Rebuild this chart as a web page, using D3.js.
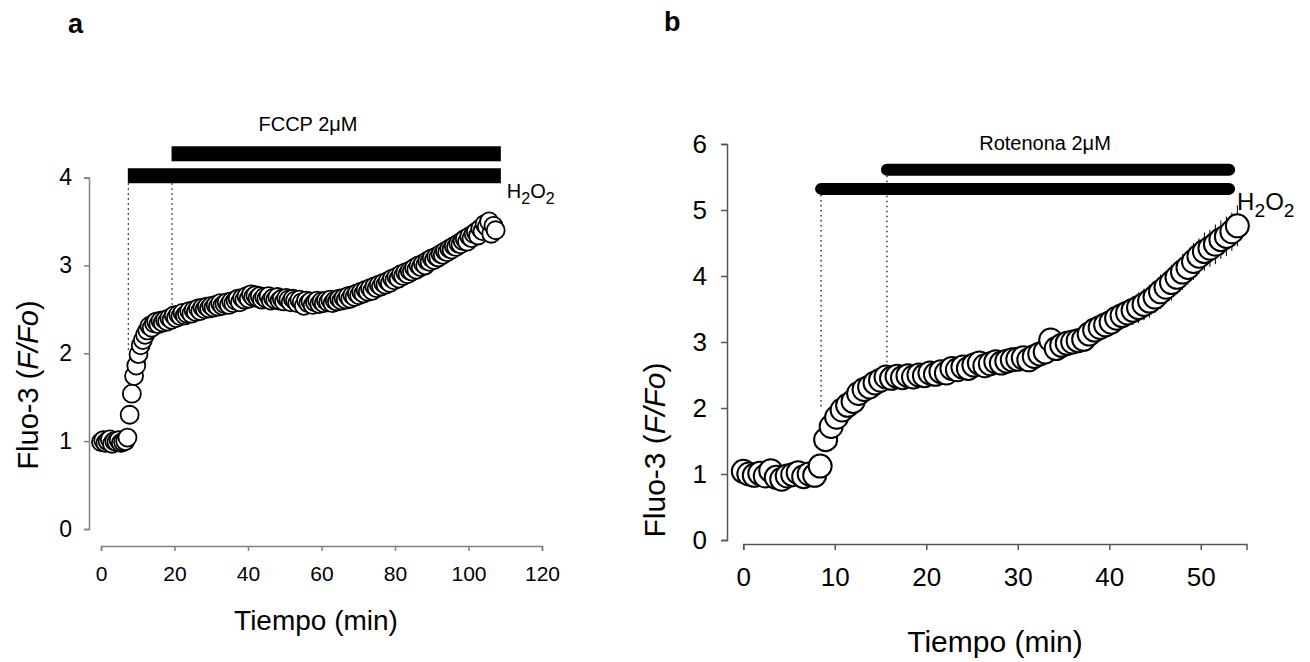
<!DOCTYPE html>
<html><head><meta charset="utf-8">
<script src="https://cdn.jsdelivr.net/npm/d3@7"></script>
<style>body{margin:0;background:#fff}svg{display:block}text{font-family:"Liberation Sans",Arial,sans-serif}</style>
</head><body>
<svg id="c" width="1310" height="662"></svg>
<script>
// ---------- DATA ----------
// Panel a: sampling interval (min) and Fluo-3 F/Fo values
const intervalA = 0.6;
const valuesA = [
0.99,1.01,0.98,1.00,1.02,0.97,1.00,0.99,1.01,0.98,0.99,1.00,1.04,
1.30,1.54,1.74,1.86,1.99,2.09,2.15,
2.21,2.26,2.31,2.29,2.34,2.36,2.33,2.37,2.35,2.38,
2.36,2.40,2.38,2.43,2.40,2.44,2.42,2.46,2.43,2.45,
2.48,2.45,2.49,2.47,2.51,2.48,2.52,2.50,2.53,2.51,
2.54,2.52,2.55,2.53,2.57,2.54,2.56,2.58,2.55,2.59,
2.57,2.60,2.62,2.58,2.63,2.61,2.65,2.62,2.67,2.64,
2.66,2.63,2.65,2.61,2.64,2.62,2.65,2.60,2.63,2.61,
2.64,2.60,2.62,2.59,2.63,2.61,2.58,2.62,2.60,2.57,
2.61,2.58,2.54,2.60,2.57,2.59,2.55,2.58,2.60,2.56,
2.59,2.57,2.60,2.58,2.61,2.57,2.60,2.59,2.62,2.60,
2.63,2.61,2.65,2.62,2.66,2.64,2.68,2.66,2.70,2.68,
2.72,2.70,2.74,2.71,2.76,2.74,2.78,2.76,2.80,2.78,
2.82,2.80,2.85,2.83,2.87,2.85,2.90,2.88,2.92,2.90,
2.94,2.93,2.97,2.95,3.00,2.98,3.02,3.00,3.05,3.04,
3.08,3.06,3.10,3.09,3.13,3.12,3.16,3.15,3.19,3.18,
3.22,3.21,3.25,3.24,3.28,3.30,3.27,3.33,3.31,3.36,
3.38,3.34,3.42,3.39,3.47,3.44,3.50,3.36,3.45,3.40];
const xTicksA = [0,20,40,60,80,100,120];
const yTicksA = [0,1,2,3,4];
// treatment bars panel a: [start, end] in min
const h2o2A = [7.3, 108.8];
const fccpA = [19.2, 108.8];

// Panel b
const intervalB = 0.6;
const valuesB = [
1.04,1.00,0.98,1.01,0.97,1.05,0.95,0.92,0.97,0.99,1.02,0.96,1.00,0.98,
1.12,1.52,1.72,1.86,1.97,2.04,2.10,2.22,2.28,2.32,
2.38,2.42,2.47,2.45,2.48,2.46,2.49,2.47,2.50,2.49,
2.53,2.51,2.55,2.53,2.60,2.58,2.62,2.60,2.65,2.68,
2.64,2.67,2.70,2.68,2.71,2.73,2.74,2.76,2.73,2.78,
2.82,2.85,3.03,2.90,2.95,2.98,3.00,3.02,3.04,3.12,
3.18,3.22,3.26,3.30,3.36,3.40,3.44,3.48,3.52,3.57,
3.62,3.68,3.76,3.83,3.90,3.98,4.06,4.13,4.22,4.30,
4.37,4.42,4.48,4.55,4.60,4.67,4.76];
const errorsB = [
0.08,0.08,0.08,0.08,0.08,0.08,0.08,0.08,0.08,0.08,0.08,0.08,0.08,0.08,
0.08,0.08,0.08,0.08,0.08,0.08,0.08,0.08,0.08,0.08,
0.08,0.08,0.08,0.08,0.08,0.08,0.08,0.08,0.08,0.08,
0.08,0.08,0.08,0.08,0.08,0.08,0.08,0.08,0.08,0.08,
0.08,0.08,0.08,0.08,0.08,0.08,0.08,0.08,0.08,0.08,
0.08,0.08,0.08,0.10,0.10,0.10,0.12,0.12,0.12,0.14,
0.15,0.16,0.17,0.18,0.19,0.20,0.21,0.22,0.23,0.24,
0.25,0.24,0.26,0.25,0.27,0.26,0.27,0.26,0.28,0.27,
0.29,0.28,0.30,0.29,0.30,0.29,0.31];
const xTicksB = [0,10,20,30,40,50];
const yTicksB = [0,1,2,3,4,5,6];
const h2o2B = [8.5, 53.1];
const rotB = [15.7, 53.1];

// ---------- DRAW ----------
const svg = d3.select("#c");
const FONT = "Liberation Sans, Arial, sans-serif";
const fmt = d3.format("d");

function yTitle(g, x, y, size){
  const t = g.append("text").attr("transform",`translate(${x},${y}) rotate(-90)`)
    .attr("text-anchor","middle").attr("font-size",size);
  t.append("tspan").text("Fluo-3 (");
  t.append("tspan").attr("font-style","italic").text("F/Fo");
  t.append("tspan").text(")");
}
function h2o2(g, x, y, size){
  const t = g.append("text").attr("x",x).attr("y",y).attr("font-size",size);
  t.append("tspan").text("H");
  t.append("tspan").attr("font-size",size*0.8).attr("dy",size*0.3).text("2");
  t.append("tspan").attr("dy",-size*0.3).text("O");
  t.append("tspan").attr("font-size",size*0.8).attr("dy",size*0.3).text("2");
}

// ===== Panel a =====
{
  const x = d3.scaleLinear().domain([0,120]).range([101,542]);
  const y = d3.scaleLinear().domain([0,4]).range([529,177.5]);
  const g = svg.append("g");
  const yAx = g.append("g").attr("transform","translate(89,0)")
    .call(d3.axisLeft(y).tickValues(yTicksA).tickFormat(fmt).tickSizeOuter(0).tickSize(5).tickPadding(12));
  yAx.selectAll("path,line").attr("stroke","#808080").attr("stroke-width",1.5);
  yAx.selectAll("text").attr("font-size",23).attr("fill","#000").attr("font-family",FONT);
  const xAx = g.append("g").attr("transform","translate(0,546)")
    .call(d3.axisBottom(x).tickValues(xTicksA).tickFormat(fmt).tickSizeOuter(0).tickSize(5).tickPadding(15));
  xAx.selectAll("path,line").attr("stroke","#808080").attr("stroke-width",1.5);
  xAx.selectAll("text").attr("font-size",21).attr("fill","#000").attr("font-family",FONT);

  // bars
  const barH = 15;
  g.append("rect").attr("x",x(h2o2A[0])).attr("width",x(h2o2A[1])-x(h2o2A[0]))
    .attr("y",y(4.02)-barH/2).attr("height",barH).attr("fill","#000");
  g.append("rect").attr("x",x(fccpA[0])).attr("width",x(fccpA[1])-x(fccpA[0]))
    .attr("y",y(4.27)-barH/2).attr("height",barH).attr("fill","#000");
  g.append("line").attr("x1",x(h2o2A[0])+0.5).attr("x2",x(h2o2A[0])+0.5)
    .attr("y1",y(4.02)+barH/2).attr("y2",y(2.0))
    .attr("stroke","#000").attr("stroke-width",1.2).attr("stroke-dasharray","1.5,3.5");
  g.append("line").attr("x1",x(fccpA[0])+0.5).attr("x2",x(fccpA[0])+0.5)
    .attr("y1",y(4.02)+barH/2).attr("y2",y(2.5))
    .attr("stroke","#000").attr("stroke-width",1.2).attr("stroke-dasharray","1.5,3.5");
  g.append("text").attr("x",308).attr("y",131)
    .attr("text-anchor","middle").attr("font-size",20).text("FCCP 2μM");
  h2o2(g, x(h2o2A[1])+6, 198, 20);

  g.selectAll("circle.a").data(valuesA).join("circle")
    .attr("cx",(d,i)=>x(i*intervalA)).attr("cy",d=>y(d)).attr("r",9)
    .attr("fill","#fff").attr("stroke","#000").attr("stroke-width",1.8);

  g.append("text").attr("x",316).attr("y",630).attr("text-anchor","middle")
    .attr("font-size",28).text("Tiempo (min)");
  yTitle(g, 38, 385, 29);
  g.append("text").attr("x",68).attr("y",33).attr("font-size",27).attr("font-weight","bold").text("a");
}

// ===== Panel b =====
{
  const x = d3.scaleLinear().domain([0,55]).range([743.3,1246.5]);
  const y = d3.scaleLinear().domain([0,6]).range([540,144]);
  const g = svg.append("g");
  const yAx = g.append("g").attr("transform","translate(727,0)")
    .call(d3.axisLeft(y).tickValues(yTicksB).tickFormat(fmt).tickSizeOuter(0).tickSize(6).tickPadding(14));
  yAx.selectAll("path,line").attr("stroke","#555").attr("stroke-width",1.5);
  yAx.selectAll("text").attr("font-size",26).attr("fill","#000").attr("font-family",FONT);
  const xAx = g.append("g").attr("transform","translate(0,544)")
    .call(d3.axisBottom(x).tickValues(xTicksB).tickFormat(fmt).tickSizeOuter(0).tickSize(6).tickPadding(18));
  xAx.selectAll("path,line").attr("stroke","#555").attr("stroke-width",1.5);
  xAx.selectAll("text").attr("font-size",26).attr("fill","#000").attr("font-family",FONT);

  const bw = 12;
  g.append("line").attr("x1",x(h2o2B[0])).attr("x2",x(h2o2B[1]))
    .attr("y1",y(5.32)).attr("y2",y(5.32)).attr("stroke","#000").attr("stroke-width",bw).attr("stroke-linecap","round");
  g.append("line").attr("x1",x(rotB[0])).attr("x2",x(rotB[1]))
    .attr("y1",y(5.61)).attr("y2",y(5.61)).attr("stroke","#000").attr("stroke-width",bw).attr("stroke-linecap","round");
  g.append("line").attr("x1",x(h2o2B[0])).attr("x2",x(h2o2B[0]))
    .attr("y1",y(5.32)+bw/2).attr("y2",y(2.0))
    .attr("stroke","#000").attr("stroke-width",1.2).attr("stroke-dasharray","1.5,3.5");
  g.append("line").attr("x1",x(rotB[0])).attr("x2",x(rotB[0]))
    .attr("y1",y(5.61)+bw/2).attr("y2",y(2.6))
    .attr("stroke","#000").attr("stroke-width",1.2).attr("stroke-dasharray","1.5,3.5");
  g.append("text").attr("x",1045).attr("y",150).attr("text-anchor","middle")
    .attr("font-size",20).text("Rotenona 2μM");
  h2o2(g, x(h2o2B[1])+8, 210, 24);

  g.selectAll("line.err").data(valuesB).join("line").attr("class","err")
    .attr("x1",(d,i)=>x(i*intervalB)).attr("x2",(d,i)=>x(i*intervalB))
    .attr("y1",(d,i)=>y(d+errorsB[i])).attr("y2",(d,i)=>y(d-errorsB[i]))
    .attr("stroke","#000").attr("stroke-width",1);
  g.selectAll("circle.b").data(valuesB).join("circle")
    .attr("cx",(d,i)=>x(i*intervalB)).attr("cy",d=>y(d)).attr("r",11.5)
    .attr("fill","#fff").attr("stroke","#000").attr("stroke-width",2);

  g.append("text").attr("x",995).attr("y",652).attr("text-anchor","middle")
    .attr("font-size",30).text("Tiempo (min)");
  yTitle(g, 665, 450, 30);
  g.append("text").attr("x",664).attr("y",31).attr("font-size",27).attr("font-weight","bold").text("b");
}
</script>
</body></html>
